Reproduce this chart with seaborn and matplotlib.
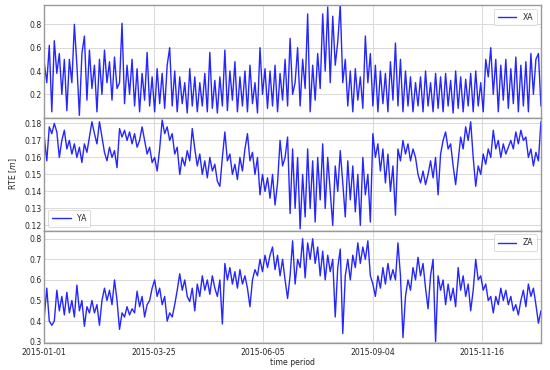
import numpy as np
import pandas as pd
import matplotlib
matplotlib.use("Agg")
import matplotlib.pyplot as plt
import seaborn as sns

xa = [0.47, 0.30, 0.62, 0.05, 0.66, 0.38, 0.55, 0.20, 0.50, 0.06,
      0.50, 0.30, 0.80, 0.45, 0.02, 0.55, 0.70, 0.15, 0.58, 0.25,
      0.45, 0.05, 0.50, 0.20, 0.58, 0.30, 0.48, 0.15, 0.52, 0.25,
      0.30, 0.81, 0.12, 0.45, 0.20, 0.50, 0.10, 0.42, 0.05, 0.38,
      0.15, 0.56, 0.10, 0.35, 0.05, 0.42, 0.12, 0.38, 0.08, 0.45,
      0.60, 0.10, 0.40, 0.05, 0.35, 0.12, 0.30, 0.04, 0.42, 0.10,
      0.35, 0.05, 0.30, 0.10, 0.38, 0.05, 0.56, 0.08, 0.32, 0.04,
      0.35, 0.10, 0.58, 0.06, 0.40, 0.15, 0.48, 0.05, 0.35, 0.10,
      0.40, 0.05, 0.45, 0.12, 0.30, 0.04, 0.60, 0.20, 0.42, 0.08,
      0.40, 0.10, 0.45, 0.05, 0.38, 0.15, 0.50, 0.10, 0.68, 0.20,
      0.30, 0.60, 0.10, 0.50, 0.25, 0.89, 0.05, 0.45, 0.15, 0.55,
      0.25, 0.89, 0.40, 0.95, 0.30, 0.87, 0.45, 0.65, 0.97, 0.30,
      0.50, 0.10, 0.40, 0.05, 0.42, 0.15, 0.35, 0.08, 0.70, 0.30,
      0.55, 0.10, 0.45, 0.05, 0.40, 0.12, 0.38, 0.05, 0.48, 0.15,
      0.64, 0.10, 0.50, 0.05, 0.40, 0.10, 0.35, 0.05, 0.30, 0.10,
      0.35, 0.05, 0.40, 0.10, 0.30, 0.05, 0.38, 0.08, 0.35, 0.05,
      0.38, 0.10, 0.32, 0.04, 0.40, 0.08, 0.35, 0.05, 0.33, 0.10,
      0.38, 0.05, 0.40, 0.10, 0.30, 0.05, 0.50, 0.35, 0.60, 0.20,
      0.50, 0.05, 0.45, 0.15, 0.50, 0.08, 0.42, 0.12, 0.52, 0.05,
      0.45, 0.10, 0.48, 0.05, 0.55, 0.20, 0.50, 0.55, 0.10]

ya = [0.172, 0.158, 0.178, 0.174, 0.180, 0.175, 0.160, 0.170, 0.176, 0.165,
      0.170, 0.162, 0.168, 0.160, 0.166, 0.157, 0.168, 0.163, 0.172, 0.181,
      0.174, 0.168, 0.181, 0.172, 0.163, 0.158, 0.166, 0.160, 0.164, 0.154,
      0.177, 0.172, 0.176, 0.170, 0.175, 0.168, 0.174, 0.166, 0.170, 0.178,
      0.170, 0.162, 0.166, 0.157, 0.160, 0.152, 0.165, 0.182, 0.174, 0.178,
      0.170, 0.174, 0.162, 0.166, 0.150, 0.160, 0.155, 0.164, 0.158, 0.177,
      0.165, 0.155, 0.162, 0.150, 0.158, 0.148, 0.160, 0.152, 0.156, 0.146,
      0.143, 0.160, 0.175, 0.158, 0.162, 0.150, 0.156, 0.147, 0.160, 0.152,
      0.165, 0.174, 0.158, 0.163, 0.150, 0.160, 0.138, 0.150, 0.140, 0.148,
      0.136, 0.150, 0.132, 0.145, 0.170, 0.155, 0.160, 0.172, 0.127, 0.165,
      0.130, 0.160, 0.118, 0.150, 0.125, 0.165, 0.130, 0.158, 0.122, 0.160,
      0.135, 0.168, 0.130, 0.160, 0.140, 0.120, 0.155, 0.140, 0.164, 0.145,
      0.125, 0.158, 0.135, 0.155, 0.128, 0.150, 0.120, 0.160, 0.138, 0.150,
      0.122, 0.174, 0.160, 0.168, 0.152, 0.165, 0.145, 0.162, 0.140, 0.155,
      0.126, 0.165, 0.158, 0.170, 0.162, 0.168, 0.158, 0.165, 0.160, 0.150,
      0.145, 0.152, 0.144, 0.150, 0.158, 0.148, 0.160, 0.138, 0.162, 0.170,
      0.175, 0.165, 0.168, 0.155, 0.144, 0.158, 0.172, 0.165, 0.178, 0.170,
      0.181, 0.160, 0.143, 0.155, 0.150, 0.162, 0.156, 0.165, 0.160, 0.176,
      0.165, 0.170, 0.160, 0.168, 0.162, 0.166, 0.170, 0.165, 0.175, 0.168,
      0.176, 0.170, 0.172, 0.160, 0.165, 0.155, 0.163, 0.158, 0.181]

za = [0.42, 0.56, 0.40, 0.38, 0.40, 0.55, 0.45, 0.52, 0.43, 0.54,
      0.44, 0.50, 0.42, 0.575, 0.45, 0.50, 0.375, 0.47, 0.44, 0.50,
      0.44, 0.48, 0.38, 0.50, 0.56, 0.50, 0.55, 0.48, 0.60, 0.50,
      0.36, 0.44, 0.42, 0.47, 0.43, 0.46, 0.44, 0.545, 0.47, 0.52,
      0.42, 0.48, 0.50, 0.56, 0.60, 0.52, 0.56, 0.48, 0.52, 0.40,
      0.44, 0.42, 0.48, 0.55, 0.63, 0.55, 0.60, 0.52, 0.495, 0.56,
      0.45, 0.58, 0.52, 0.62, 0.55, 0.60, 0.53, 0.62, 0.56, 0.52,
      0.60, 0.386, 0.68, 0.60, 0.66, 0.58, 0.64, 0.56, 0.65, 0.58,
      0.62, 0.56, 0.47, 0.60, 0.65, 0.62, 0.70, 0.64, 0.72, 0.66,
      0.72, 0.76, 0.65, 0.72, 0.62, 0.70, 0.60, 0.51, 0.62, 0.79,
      0.58, 0.70, 0.66, 0.80, 0.61, 0.78, 0.70, 0.80, 0.68, 0.76,
      0.62, 0.74, 0.60, 0.72, 0.64, 0.70, 0.42, 0.66, 0.75, 0.34,
      0.62, 0.70, 0.60, 0.72, 0.66, 0.78, 0.68, 0.76, 0.70, 0.79,
      0.62, 0.58, 0.52, 0.62, 0.56, 0.66, 0.58, 0.68, 0.60, 0.65,
      0.60, 0.78, 0.62, 0.32, 0.52, 0.60, 0.55, 0.66, 0.60, 0.71,
      0.62, 0.68, 0.56, 0.46, 0.62, 0.70, 0.30, 0.62, 0.55, 0.60,
      0.48, 0.58, 0.50, 0.56, 0.47, 0.66, 0.55, 0.62, 0.52, 0.58,
      0.45, 0.55, 0.70, 0.60, 0.62, 0.55, 0.58, 0.50, 0.52, 0.44,
      0.52, 0.48, 0.56, 0.50, 0.55, 0.48, 0.52, 0.45, 0.48, 0.43,
      0.50, 0.55, 0.47, 0.58, 0.52, 0.56, 0.48, 0.39, 0.45]

series_names = ["XA", "YA", "ZA"]
tick_labels = ["2015-01-01", "2015-03-25", "2015-06-05", "2015-09-04", "2015-11-16"]
# fraction of the time axis between consecutive labelled ticks
tick_step_frac = 109.5 / 497.0

yticks = [[0.2, 0.4, 0.6, 0.8],
          [0.12, 0.13, 0.14, 0.15, 0.16, 0.17, 0.18],
          [0.3, 0.4, 0.5, 0.6, 0.7, 0.8]]
ylims = [(0.0, 0.968), (0.117, 0.1834), (0.292, 0.84)]
legend_locs = ["upper right", "lower left", "upper right"]

# ---- plotting ----
sns.set_style("whitegrid", {"axes.edgecolor": "0.6", "grid.color": "0.85"})
plt.rcParams["font.family"] = ["DejaVu Sans"]
fs = 5.6

fig = plt.figure(figsize=(5.5, 3.7), dpi=100)
gs = fig.add_gridspec(3, 1, left=0.0805, right=0.9835, top=0.987, bottom=0.072, hspace=0.0)
axes = [fig.add_subplot(gs[i]) for i in range(3)]

n = len(xa)
df = pd.DataFrame({"idx": np.arange(n), "XA": xa, "YA": ya, "ZA": za})
tick_pos = [i * tick_step_frac * (n - 1) for i in range(len(tick_labels))]

for i, (ax, name) in enumerate(zip(axes, series_names)):
    sns.lineplot(data=df, x="idx", y=name, ax=ax, color="blue", linewidth=1.0,
                 alpha=0.85, label=name)
    ax.set_xlim(0, n - 1)
    ax.set_ylim(*ylims[i])
    ax.set_yticks(yticks[i])
    ax.set_xticks(tick_pos)
    ax.tick_params(axis="y", labelsize=fs, pad=1.5, length=0)
    ax.tick_params(axis="x", labelsize=fs, pad=3.5, length=0)
    ax.set_xlabel("")
    ax.set_ylabel("")
    for sp in ax.spines.values():
        sp.set_linewidth(1.0)
    leg = ax.legend(loc=legend_locs[i], fontsize=fs, frameon=True, handlelength=2.4,
                    borderpad=0.5, labelspacing=0.3)
    leg.get_frame().set_linewidth(0.6)
    if i < 2:
        ax.set_xticklabels([])
    else:
        ax.set_xticklabels(tick_labels)
        ax.set_xlabel("time period", fontsize=fs, labelpad=0.5)
    ax.grid(True, linewidth=0.7)

axes[1].set_ylabel("RTE [$m$]", fontsize=fs, labelpad=4)

fig.savefig("out.png", dpi=100)
